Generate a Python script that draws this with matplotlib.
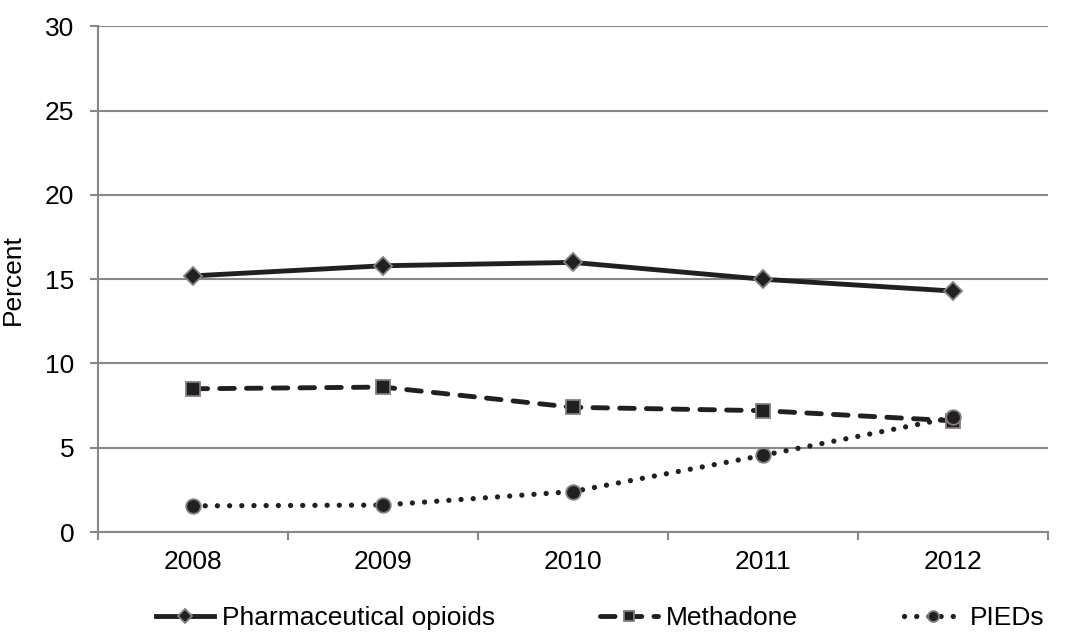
import matplotlib
matplotlib.use("Agg")
import matplotlib.pyplot as plt
from matplotlib.ticker import FixedLocator

# Dados
anos = ["2008", "2009", "2010", "2011", "2012"]
opioides = [15.2, 15.8, 16.0, 15.0, 14.3]
metadona = [8.5, 8.6, 7.4, 7.2, 6.6]
pieds = [1.55, 1.6, 2.4, 4.55, 6.8]
y_ticks = [0, 5, 10, 15, 20, 25, 30]

COR_LINHA = "#231f20"
COR_BORDA = "#808080"
COR_GRADE = "#878787"
TAM_FONTE = 19

plt.rcParams["font.family"] = ["Liberation Sans", "DejaVu Sans"]

fig = plt.figure(figsize=(10.78, 6.35), dpi=100)
ax = fig.add_axes([0.0909, 0.1622, 0.8813, 0.7961])

x = list(range(len(anos)))

ax.plot(x, opioides, color=COR_LINHA, lw=3.5, marker="D", ms=9.5,
        mfc=COR_LINHA, mec=COR_BORDA, mew=1.3, label="Pharmaceutical opioids",
        zorder=3)
ax.plot(x, metadona, color=COR_LINHA, lw=3.5, ls=(0, (3.0, 2.5)),
        dash_capstyle="round", marker="s", ms=9.5, mfc=COR_LINHA,
        mec=COR_BORDA, mew=1.3, label="Methadone", zorder=3)
ax.plot(x, pieds, color=COR_LINHA, lw=3.8, ls=(0, (0.01, 2.3)),
        dash_capstyle="round", marker="o", ms=10.5, mfc=COR_LINHA,
        mec=COR_BORDA, mew=1.3, label="PIEDs", zorder=3)

ax.set_xlim(-0.5, len(anos) - 0.5)
ax.set_ylim(0, 30)
ax.set_xticks(x)
ax.set_xticklabels(anos)
ax.xaxis.set_minor_locator(FixedLocator([i - 0.5 for i in range(len(anos) + 1)]))
ax.set_yticks(y_ticks)

ax.tick_params(axis="x", which="major", length=0, pad=13, labelsize=TAM_FONTE)
ax.tick_params(axis="x", which="minor", length=6, width=1.5, color=COR_GRADE,
               direction="out")
ax.tick_params(axis="y", length=6, width=1.5, color=COR_GRADE, pad=11,
               labelsize=TAM_FONTE)

ax.grid(axis="y", color=COR_GRADE, lw=1.5, zorder=0)
ax.set_axisbelow(True)
for lado in ["top", "right"]:
    ax.spines[lado].set_visible(False)
for lado in ["left", "bottom"]:
    ax.spines[lado].set_color(COR_GRADE)
    ax.spines[lado].set_linewidth(1.5)

ax.set_ylabel("Percent", fontsize=TAM_FONTE)
ax.yaxis.set_label_coords(-0.077, 0.5)

fig.legend(loc="center", bbox_to_anchor=(0.5566, 0.026), ncol=3, frameon=False,
           fontsize=TAM_FONTE, handlelength=2.2, handletextpad=0.3,
           columnspacing=4.0, markerscale=0.75, borderaxespad=0)

fig.savefig("out.png", dpi=100)
